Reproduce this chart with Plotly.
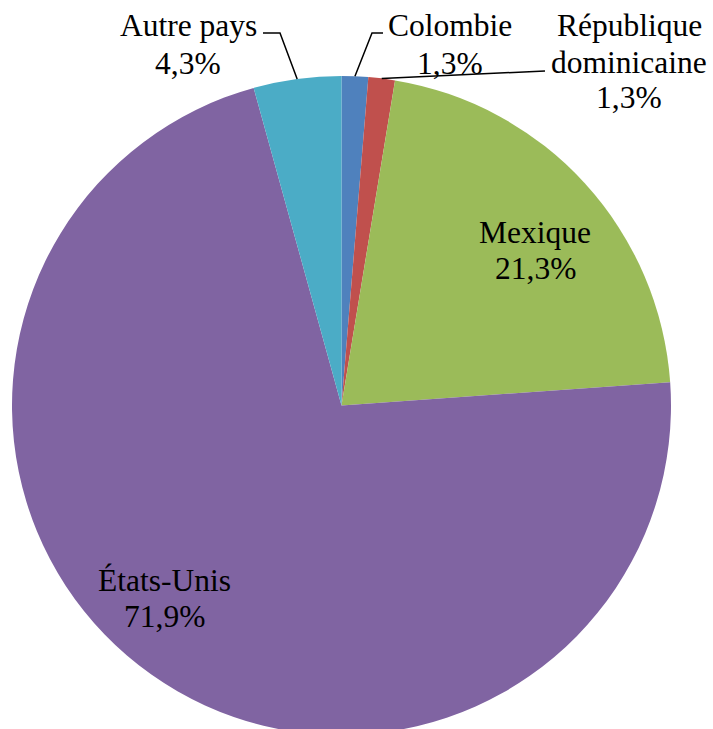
import math
import plotly.graph_objects as go

# Data: share of each origin country, clockwise from 12 o'clock
countries = ["Colombie", "République dominicaine", "Mexique", "États-Unis", "Autre pays"]
label_names = ["Colombie", "République<br>dominicaine", "Mexique", "États-Unis", "Autre pays"]
shares = [1.3, 1.3, 21.3, 71.9, 4.3]
colors = ["#4F81BD", "#C0504D", "#9BBB59", "#8064A2", "#4BACC6"]

W, H = 713, 740
CX, CY, R = 341.5, 405.5, 329.5  # pie centre and radius (px)
FONT = dict(family="Liberation Serif, Times New Roman, serif", size=31.5, color="black")

# Label placement (px): centre x, first line mid y, line step
label_pos = {
    "Colombie": (450, 26, 37),
    "République dominicaine": (629, 26, 36),
    "Mexique": (535, 232, 36),
    "États-Unis": (164, 580, 36),
    "Autre pays": (188, 26, 37),
}
# Leader-line waypoints (px) after leaving the slice edge
leaders = {
    "Colombie": [(372, 33), (383, 33)],
    "République dominicaine": [(545, 71)],
    "Autre pays": [(280, 33), (263, 33)],
}


def px(x):
    return x / W


def py(y):
    return (H - y) / H


fig = go.Figure(go.Pie(
    labels=countries,
    values=shares,
    sort=False,
    direction="clockwise",
    rotation=0,
    marker=dict(colors=colors, line=dict(width=0)),
    textinfo="none",
    hoverinfo="label+percent",
    showlegend=False,
    domain=dict(x=[px(CX - R), px(CX + R)], y=[py(CY + R), py(CY - R)]),
))

total = sum(shares)
cum = 0.0
annotations = []
shapes = []
for name, lname, v in zip(countries, label_names, shares):
    mid = (cum + v / 2) / total * 2 * math.pi
    cum += v
    lines = lname.split("<br>") + [f"{v:.1f}%".replace(".", ",")]
    x0, y0, step = label_pos[name]
    for i, t in enumerate(lines):
        annotations.append(dict(
            x=px(x0), y=py(y0 + i * step), xref="paper", yref="paper",
            text=t, showarrow=False, xanchor="center", yanchor="middle", font=FONT,
        ))
    if name in leaders:
        ex = CX + R * math.sin(mid)
        ey = CY - R * math.cos(mid)
        pts = [(ex, ey)] + leaders[name]
        path = "M " + " L ".join(f"{px(a):.5f},{py(b):.5f}" for a, b in pts)
        shapes.append(dict(type="path", xref="paper", yref="paper", path=path,
                           line=dict(color="black", width=1.5)))

fig.update_layout(
    width=W, height=H,
    margin=dict(l=0, r=0, t=0, b=0),
    paper_bgcolor="white",
    plot_bgcolor="white",
    font=FONT,
    annotations=annotations,
    shapes=shapes,
)

fig.write_html(
    "out.html",
    post_script="document.documentElement.style.overflow='hidden';document.body.style.overflow='hidden';",
)
